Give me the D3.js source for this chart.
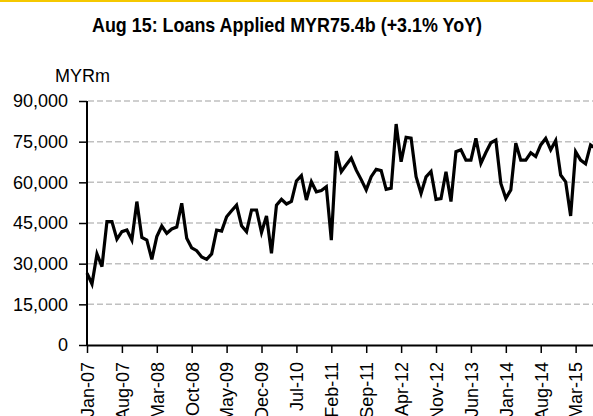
<!DOCTYPE html>
<html>
<head>
<meta charset="utf-8">
<script src="https://cdn.jsdelivr.net/npm/d3@7"></script>
<style>
  body { margin: 0; background: #fff; }
  svg { display: block; }
  .grid line { stroke: #c0c0c0; stroke-width: 1.5; stroke-dasharray: 6,3; }
  .tick text { font-family: "Liberation Sans", Arial, sans-serif; font-size: 18px; fill: #000; }
</style>
</head>
<body>
<svg id="chart" width="593" height="416"></svg>
<script>
// monthly loans applied, MYR m, Jan-07 .. Aug-15
var loans = [
  26500, 22500, 33600, 28900, 45500, 45500, 39000, 41800, 42400, 38700, 52900, 39700,
  38700, 31600, 40000, 43900, 41200, 42800, 43500, 52300, 39400, 35800, 34800, 32500,
  31600, 33600, 42400, 42000, 47300, 49500, 51600, 44000, 41800, 49800, 49800, 41500,
  47600, 33800, 51600, 53700, 52000, 53000, 60500, 62500, 53500, 60200, 56500, 57000,
  58400, 38700, 71500, 63900, 66500, 68900, 64500, 61000, 57200, 62100, 64800, 64300,
  57400, 57800, 81500, 67600, 76600, 76300, 62100, 55900, 62000, 64000, 53700, 54000,
  63900, 52900, 71300, 72000, 68200, 68200, 76200, 67000, 71000, 74600, 75600, 59600,
  54100, 57200, 74400, 68200, 68200, 70900, 69500, 73800, 76200, 72000, 75400, 62700,
  60200, 47600, 71300, 68200, 66800, 73800, 72500, 75400
];
var tickIdx    = [0, 7, 14, 21, 28, 35, 42, 49, 56, 63, 70, 77, 84, 91, 98];
var tickLabels = ["Jan-07","Aug-07","Mar-08","Oct-08","May-09","Dec-09","Jul-10","Feb-11",
                  "Sep-11","Apr-12","Nov-12","Jun-13","Jan-14","Aug-14","Mar-15"];
var yTicks = [0, 15000, 30000, 45000, 60000, 75000, 90000];

var svg = d3.select("#chart");
var W = +svg.attr("width");

// yellow rule on top
svg.append("rect").attr("x", 0).attr("y", 0).attr("width", W).attr("height", 2).attr("fill", "#f5c800");

var xAxis = d3.scaleLinear().domain([0, loans.length - 1]).range([87, 87 + 4.986 * (loans.length - 1)]);
var yAxis = d3.scaleLinear().domain([0, 90000]).range([345, 101]);

// title, squeezed to look like the narrow original
svg.append("text")
  .attr("x", 92).attr("y", 32)
  .attr("textLength", 390).attr("lengthAdjust", "spacingAndGlyphs")
  .style("font-family", "'Liberation Sans', Arial, sans-serif")
  .style("font-weight", "bold").style("font-size", "21px")
  .text("Aug 15: Loans Applied MYR75.4b (+3.1% YoY)");

svg.append("text")
  .attr("x", 55).attr("y", 82)
  .style("font-family", "'Liberation Sans', Arial, sans-serif").style("font-size", "18px")
  .text("MYRm");

// gridlines
svg.append("g").attr("class", "grid")
  .selectAll("line")
  .data(yTicks.filter(function(d){ return d > 0; }))
  .enter().append("line")
    .attr("x1", 88).attr("x2", W)
    .attr("y1", function(d){ return yAxis(d); })
    .attr("y2", function(d){ return yAxis(d); });

// y axis
var gy = svg.append("g")
  .attr("transform", "translate(87,0)")
  .call(d3.axisLeft(yAxis).tickValues(yTicks).tickSize(8).tickPadding(11).tickFormat(d3.format(",")));
gy.select(".domain").attr("stroke", "#000").attr("stroke-width", 2).attr("d", "M0," + yAxis(90000) + "V" + yAxis(0));
gy.selectAll(".tick line").attr("stroke", "#000").attr("stroke-width", 1.5);

// x axis
var gx = svg.append("g")
  .attr("transform", "translate(0,345)")
  .call(d3.axisBottom(xAxis).tickValues(tickIdx).tickSize(8).tickSizeOuter(0)
    .tickFormat(function(d, i){ return tickLabels[i]; }));
gx.select(".domain").attr("stroke", "#000").attr("stroke-width", 2);
gx.selectAll(".tick line").attr("stroke", "#000").attr("stroke-width", 1.5);
gx.selectAll(".tick text")
  .attr("transform", "rotate(-90)")
  .attr("text-anchor", "end")
  .attr("x", -17).attr("y", 0).attr("dy", "0.35em");

// data line
svg.append("path")
  .datum(loans)
  .attr("fill", "none")
  .attr("stroke", "#000")
  .attr("stroke-width", 3.2)
  .attr("stroke-linejoin", "miter")
  .attr("d", d3.line()
    .x(function(d, i){ return xAxis(i); })
    .y(function(d){ return yAxis(d); }));
</script>
</body>
</html>
